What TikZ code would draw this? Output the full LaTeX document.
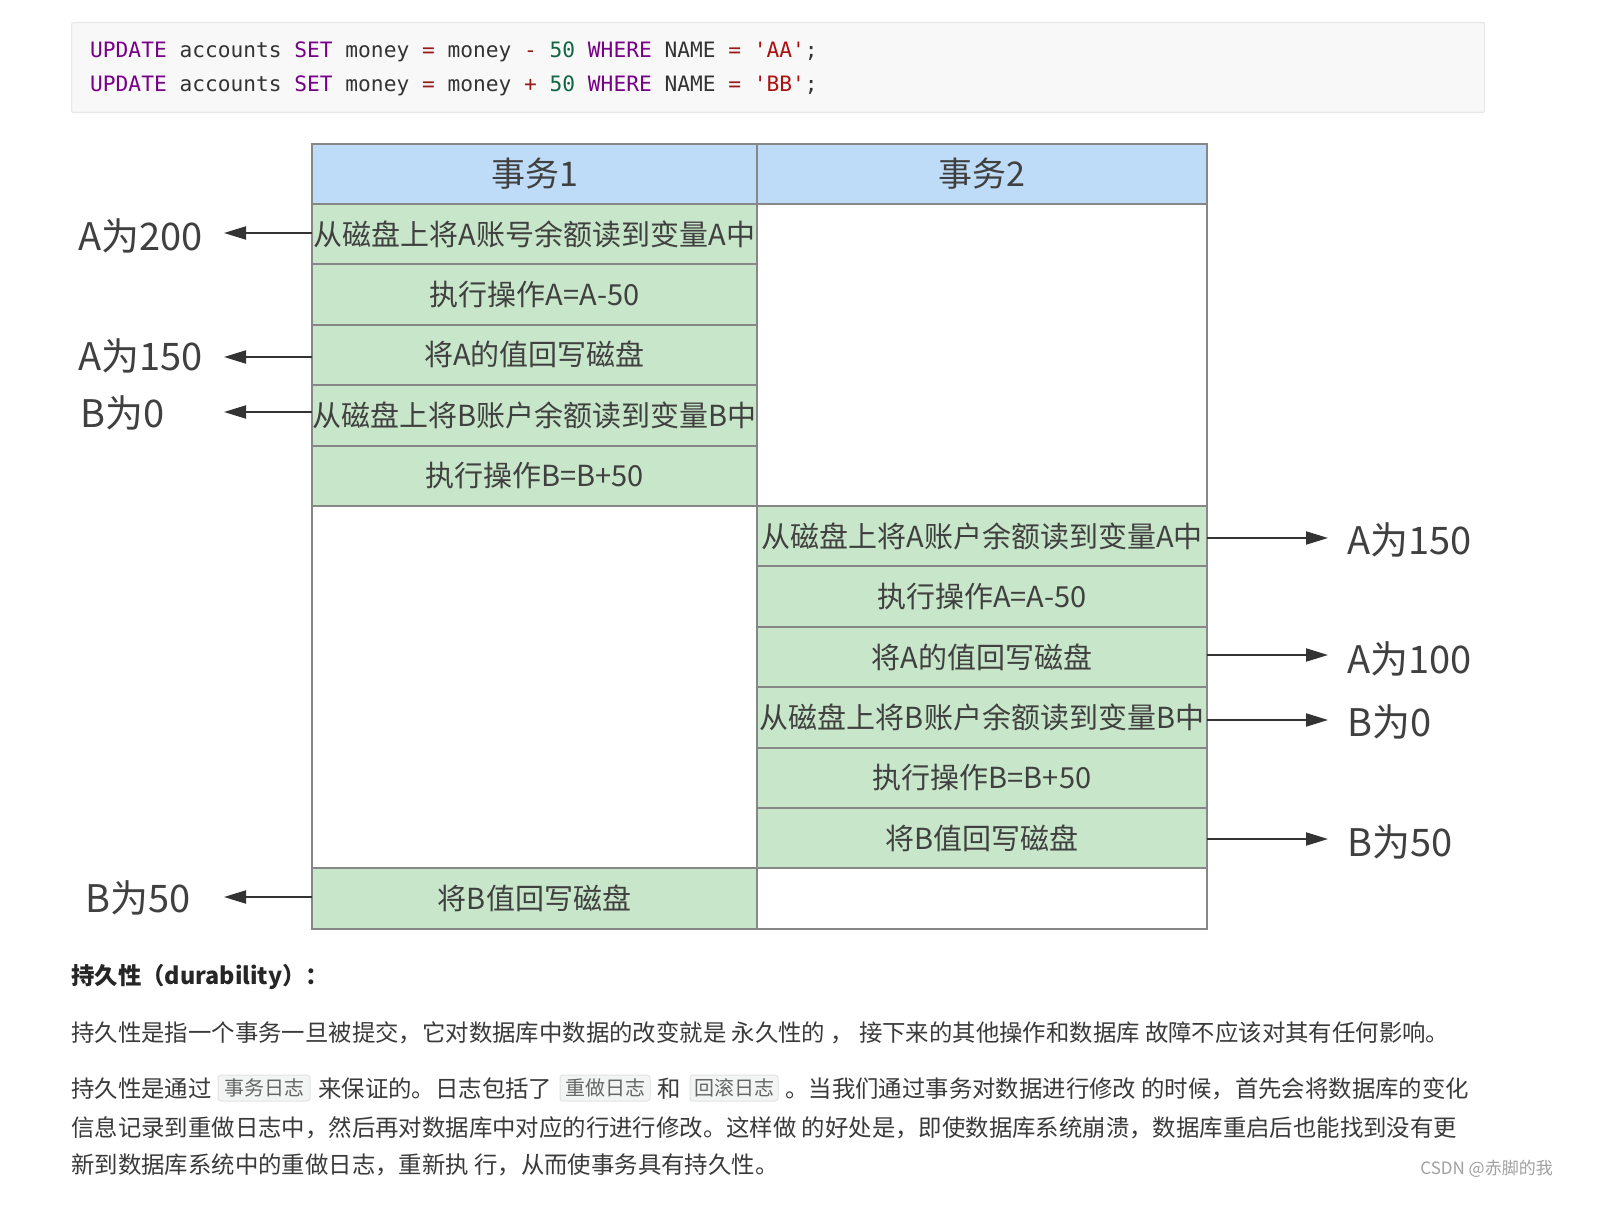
\documentclass[tikz,border=0pt]{standalone}
\usepackage{fontspec}
\setmainfont{Noto Sans CJK SC}
\setmonofont{DejaVu Sans Mono}
\usetikzlibrary{arrows.meta}
\definecolor{kw}{HTML}{770088}
\definecolor{op}{HTML}{981A1A}
\definecolor{num}{HTML}{116644}
\definecolor{str}{HTML}{AA1111}
\definecolor{codetxt}{HTML}{333333}
\definecolor{codebg}{HTML}{F8F8F8}
\definecolor{codeline}{HTML}{E8E8E8}
\definecolor{hdr}{RGB}{190,220,247}
\definecolor{grn}{RGB}{200,230,201}
\definecolor{bord}{RGB}{135,135,135}
\definecolor{ttxt}{HTML}{404040}
\definecolor{ptxt}{HTML}{3A3A3A}
\definecolor{ibg}{HTML}{F3F4F4}
\definecolor{iline}{HTML}{E3E3E3}
\definecolor{itxt}{HTML}{666666}
\definecolor{wm}{HTML}{A0A0A0}
\begin{document}
\begin{tikzpicture}[x=1pt,y=-1pt,
  cell/.style={draw=bord, line width=2pt, inner sep=0pt, outer sep=0pt, anchor=north west,
    text=ttxt, font=\fontsize{29}{34}\selectfont, text height=25.5pt, text depth=3.5pt},
  c1/.style={cell, minimum width=445pt, minimum height=60.4pt},
  c2/.style={cell, minimum width=450pt, minimum height=60.4pt},
  hcell/.style={cell, fill=hdr, minimum height=60pt, font=\fontsize{34}{40}\selectfont,
    text height=29.9pt, text depth=4.1pt},
  lbl/.style={anchor=base west, inner sep=0pt, text=ttxt, font=\fontsize{38}{44}\selectfont},
  arr/.style={draw=ttxt!80!black, line width=2pt, -{Triangle[length=22pt,width=13pt]}},
  code/.style={anchor=base west, inner sep=0pt, text=codetxt, font=\ttfamily\fontsize{21.2}{24}\selectfont},
  para/.style={anchor=base west, inner sep=0pt, text=ptxt, font=\fontsize{23.4}{28}\selectfont},
  ibox/.style={draw=iline, fill=ibg, rounded corners=3pt, line width=1pt, inner sep=0pt,
    minimum height=26pt, text=itxt, font=\fontsize{20}{24}\selectfont, text height=17.6pt, text depth=2.4pt}
]
\useasboundingbox (0,0) rectangle (1604,1214);
\fill[white] (0,0) rectangle (1604,1214);

% code block
\node[draw=codeline, fill=codebg, line width=1.2pt, rounded corners=2pt, inner sep=0pt,
  minimum width=1413pt, minimum height=90pt, anchor=north west] (codebox) at (71,22) {};
\node[code] (code1) at (90,57.5) {\textcolor{kw}{UPDATE} accounts \textcolor{kw}{SET} money \textcolor{op}{=} money \textcolor{op}{-} \textcolor{num}{50} \textcolor{kw}{WHERE} NAME \textcolor{op}{=} \textcolor{str}{'AA'};};
\node[code] (code2) at (90,91.5) {\textcolor{kw}{UPDATE} accounts \textcolor{kw}{SET} money \textcolor{op}{=} money \textcolor{op}{+} \textcolor{num}{50} \textcolor{kw}{WHERE} NAME \textcolor{op}{=} \textcolor{str}{'BB'};};

% table header
\node[hcell, minimum width=445pt] (h1) at (312,144) {事务1};
\node[hcell, minimum width=450pt] (h2) at (757,144) {事务2};

% transaction 1 column
\node[c1, fill=grn] (r1) at (312,204.0) {从磁盘上将A账号余额读到变量A中};
\node[c1, fill=grn] (r2) at (312,264.4) {执行操作A=A-50};
\node[c1, fill=grn] (r3) at (312,324.8) {将A的值回写磁盘};
\node[c1, fill=grn] (r4) at (312,385.2) {从磁盘上将B账户余额读到变量B中};
\node[c1, fill=grn] (r5) at (312,445.6) {执行操作B=B+50};
\node[cell, fill=white, minimum width=445pt, minimum height=362.4pt] (blank1) at (312,506.0) {};
\node[c1, fill=grn] (r12) at (312,868.4) {将B值回写磁盘};

% transaction 2 column
\node[cell, fill=white, minimum width=450pt, minimum height=302pt] (blank2) at (757,204.0) {};
\node[c2, fill=grn] (r6) at (757,506.0) {从磁盘上将A账户余额读到变量A中};
\node[c2, fill=grn] (r7) at (757,566.4) {执行操作A=A-50};
\node[c2, fill=grn] (r8) at (757,626.8) {将A的值回写磁盘};
\node[c2, fill=grn] (r9) at (757,687.2) {从磁盘上将B账户余额读到变量B中};
\node[c2, fill=grn] (r10) at (757,747.6) {执行操作B=B+50};
\node[c2, fill=grn] (r11) at (757,808.0) {将B值回写磁盘};
\node[cell, fill=white, minimum width=450pt, minimum height=60.4pt] (blank3) at (757,868.4) {};

% left side values
\coordinate (la1) at (224,233);
\coordinate (la3) at (224,357);
\coordinate (la4) at (224,412);
\coordinate (la12) at (224,897);
\draw[arr] (la1 -| r1.west) -- (la1);
\draw[arr] (la3 -| r3.west) -- (la3);
\draw[arr] (la4 -| r4.west) -- (la4);
\draw[arr] (la12 -| r12.west) -- (la12);
\node[lbl] (v1) at (78,251) {A为200};
\node[lbl] (v3) at (78,371) {A为150};
\node[lbl] (v4) at (80,428) {B为0};
\node[lbl] (v12) at (85,912) {B为50};

% right side values
\coordinate (ra6) at (1328,538);
\coordinate (ra8) at (1328,655);
\coordinate (ra9) at (1328,720);
\coordinate (ra11) at (1328,839);
\draw[arr] (ra6 -| r6.east) -- (ra6);
\draw[arr] (ra8 -| r8.east) -- (ra8);
\draw[arr] (ra9 -| r9.east) -- (ra9);
\draw[arr] (ra11 -| r11.east) -- (ra11);
\node[lbl] (v6) at (1347,554) {A为150};
\node[lbl] (v8) at (1347,673) {A为100};
\node[lbl] (v9) at (1347,736) {B为0};
\node[lbl] (v11) at (1347,856) {B为50};

% text below
\node[para, font=\bfseries\fontsize{23.4}{28}\selectfont, text=black!85] (head) at (71,984) {持久性（durability）：};
\node[para] (p1) at (71,1041) {持久性是指一个事务一旦被提交，它对数据库中数据的改变就是 永久性的 ， 接下来的其他操作和数据库 故障不应该对其有任何影响。};
\node[para] (p2a) at (71,1097) {持久性是通过};
\node[ibox, minimum width=92pt] (k1) at (264,1088) {事务日志};
\node[para] (p2b) at (318,1097) {来保证的。日志包括了};
\node[ibox, minimum width=90pt] (k2) at (605,1088) {重做日志};
\node[para] (p2c) at (657,1097) {和};
\node[ibox, minimum width=88pt] (k3) at (734,1088) {回滚日志};
\node[para] (p2d) at (785,1097) {。当我们通过事务对数据进行修改 的时候，首先会将数据库的变化};
\node[para] (p3) at (71,1136) {信息记录到重做日志中，然后再对数据库中对应的行进行修改。这样做 的好处是，即使数据库系统崩溃，数据库重启后也能找到没有更};
\node[para] (p4) at (71,1173) {新到数据库系统中的重做日志，重新执 行，从而使事务具有持久性。};
\node[anchor=base east, inner sep=0pt, text=wm, font=\fontsize{17}{20}\selectfont] (wmk) at (1553,1174) {CSDN @赤脚的我};
\end{tikzpicture}
\end{document}
